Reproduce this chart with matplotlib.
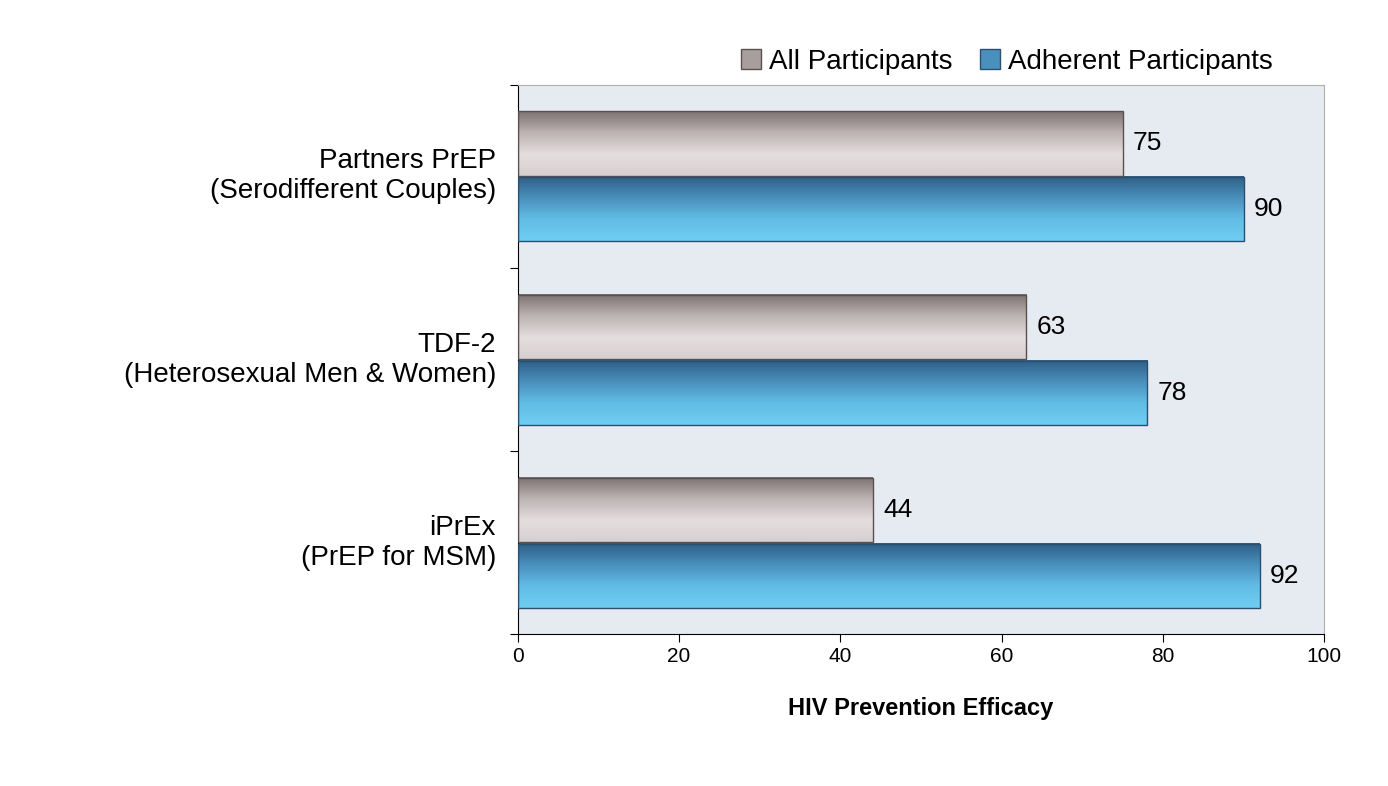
import numpy as np
import matplotlib.pyplot as plt
from matplotlib.colors import LinearSegmentedColormap
from matplotlib.patches import Rectangle

plt.rcParams['font.family'] = ['Liberation Sans', 'DejaVu Sans']

studies = ['iPrEx\n(PrEP for MSM)', 'TDF-2\n(Heterosexual Men & Women)',
           'Partners PrEP\n(Serodifferent Couples)']
all_part = [44, 63, 75]
adherent = [92, 78, 90]

gray_cm = LinearSegmentedColormap.from_list('g', ['#7d7272', '#bdb3b3', '#e4dede', '#d8d0d0'])
blue_cm = LinearSegmentedColormap.from_list('b', ['#2f5f86', '#4a90bd', '#62bde6', '#6fcdf2'])

fig = plt.figure(figsize=(13.88, 7.86), dpi=100)
ax = fig.add_axes([0.373, 0.193, 0.581, 0.699])
ax.set_facecolor('#e6eaf1')
ax.set_xlim(0, 100)
ax.set_ylim(-0.5, 2.5)

h = 0.36
grad = np.linspace(0, 1, 64).reshape(-1, 1)
for i in range(len(studies)):
    for val, yc, cm, ec in [(all_part[i], i + h / 2, gray_cm, '#5a5050'),
                            (adherent[i], i - h / 2, blue_cm, '#2a4f70')]:
        ax.imshow(grad, cmap=cm, aspect='auto', origin='upper',
                  extent=(0, val, yc - h / 2 + 0.005, yc + h / 2 - 0.005), zorder=2)
        ax.add_patch(Rectangle((0, yc - h / 2 + 0.005), val, h - 0.01, fill=False,
                               edgecolor=ec, lw=1.0, zorder=3))
        ax.text(val + 1.3, yc, str(val), va='center', ha='left', fontsize=19, zorder=4)

ax.set_xticks(range(0, 101, 20))
ax.tick_params(axis='x', labelsize=15, direction='out', length=6)
ax.set_yticks([-0.5, 0.5, 1.5, 2.5])
ax.set_yticklabels([])
ax.tick_params(axis='y', direction='out', length=6)
for i, s in enumerate(studies):
    ax.text(-2.7, i, s, ha='right', va='center', fontsize=20, multialignment='right')
for sp in ['top', 'right']:
    ax.spines[sp].set_color('#b0b0b0')
ax.set_xlabel('HIV Prevention Efficacy', fontsize=17, fontweight='bold', labelpad=22)

handles = [Rectangle((0, 0), 1, 1, facecolor='#a89e9e', edgecolor='#5a5050'),
           Rectangle((0, 0), 1, 1, facecolor='#4a90bd', edgecolor='#2a4f70')]
fig.legend(handles, ['All Participants', 'Adherent Participants'], loc='upper right',
           bbox_to_anchor=(0.935, 0.97), ncol=2, frameon=False, fontsize=20,
           handlelength=0.7, handleheight=0.7, handletextpad=0.3, columnspacing=1.0)

fig.savefig('out.png')
